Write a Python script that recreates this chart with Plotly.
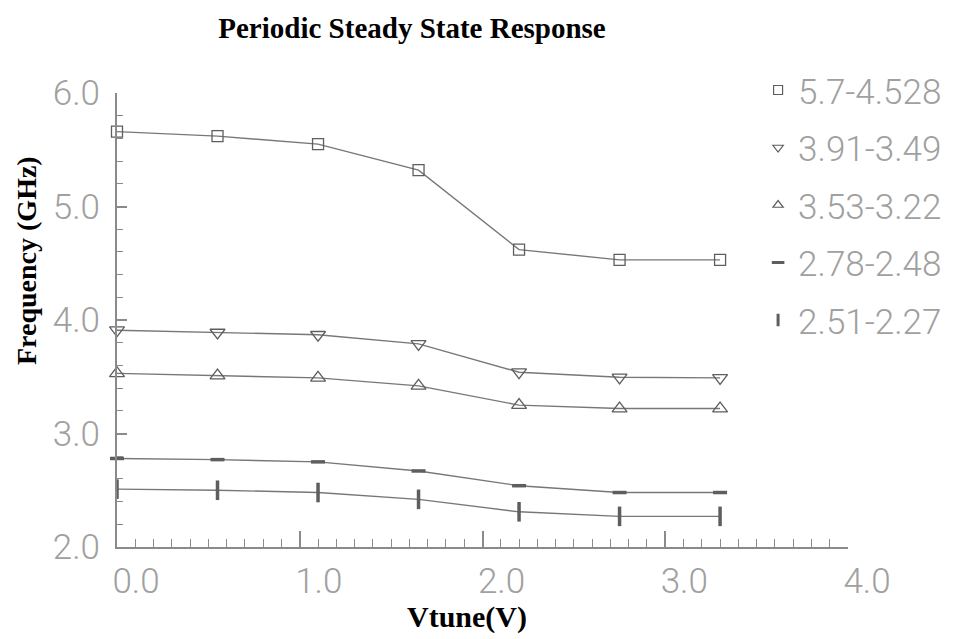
import plotly.graph_objects as go

vtune = [0.0, 0.55, 1.1, 1.65, 2.2, 2.75, 3.3]
s1 = [5.66, 5.62, 5.55, 5.32, 4.62, 4.53, 4.53]
s2 = [3.91, 3.89, 3.87, 3.79, 3.54, 3.495, 3.49]
s3 = [3.53, 3.51, 3.49, 3.42, 3.25, 3.22, 3.22]
s4 = [2.78, 2.77, 2.75, 2.67, 2.54, 2.48, 2.48]
s5 = [2.51, 2.50, 2.48, 2.42, 2.31, 2.27, 2.27]
names = ["5.7-4.528", "3.91-3.49", "3.53-3.22", "2.78-2.48", "2.51-2.27"]
series = [s1, s2, s3, s4, s5]
symbols = ["square-open", "triangle-down-open", "triangle-up-open", "line-ew-open", "line-ns-open"]
sizes = [11, 13, 13, 10, 14]
mwidths = [1.3, 1.3, 1.3, 3.5, 3.5]

xticks = [0, 1, 2, 3, 4]
xticklabels = ["0.0", "1.0", "2.0", "3.0", "4.0"]
yticks = [2, 3, 4, 5, 6]
yticklabels = ["2.0", "3.0", "4.0", "5.0", "6.0"]

LINE = "#777777"
MK = "#5e5e5e"
AX = "#8a8a8a"
TXT = "#a0a0a0"
TICKFONT = dict(family="Roboto, Liberation Sans, sans-serif", size=35, color=TXT, weight=300)
SERIF = "Liberation Serif, Times New Roman, serif"

fig = go.Figure()
for i, (name, ys) in enumerate(zip(names, series)):
    fig.add_trace(go.Scatter(
        x=vtune, y=ys, mode="lines+markers", name=name, showlegend=False,
        line=dict(color=LINE, width=1.4),
        marker=dict(symbol=symbols[i], size=sizes[i], color=MK,
                    line=dict(color=MK, width=mwidths[i])),
        cliponaxis=False,
    ))
for i, name in enumerate(names):
    fig.add_trace(go.Scatter(
        x=[None], y=[None], mode="markers", name=name, legendgroup=f"g{i}",
        marker=dict(symbol=symbols[i], size=9, color=MK,
                    line=dict(color=MK, width=1.2 if mwidths[i] < 2 else 3)),
    ))

fig.update_layout(
    width=964, height=639,
    paper_bgcolor="white", plot_bgcolor="white",
    margin=dict(l=109, r=124, t=85, b=100),
    title=dict(text="<b>Periodic Steady State Response</b>", x=404/964, xref="container",
               xanchor="center", y=1-20/639, yanchor="middle",
               font=dict(family=SERIF, size=29, color="black")),
    legend=dict(x=0.877, y=1.071, xanchor="left", yanchor="top",
                font=dict(family="Roboto, Liberation Sans, sans-serif", size=35, color=TXT, weight=300),
                traceorder="grouped", tracegroupgap=9, bgcolor="rgba(0,0,0,0)"),
    showlegend=True,
)
fig.update_xaxes(
    range=[0, 4], tickmode="array", tickvals=xticks, ticktext=xticklabels,
    showgrid=False, zeroline=False, showline=True, linecolor=AX, linewidth=2,
    ticks="inside", ticklen=16, tickwidth=1.5, tickcolor=AX,
    minor=dict(dtick=0.1, ticks="inside", ticklen=8, tickwidth=1.2, tickcolor=AX, showgrid=False),
    tickfont=TICKFONT, ticklabelshift=19, ticklabelstandoff=2,
)
fig.update_yaxes(
    range=[2, 6], tickmode="array", tickvals=yticks, ticktext=yticklabels,
    showgrid=False, zeroline=False, showline=True, linecolor=AX, linewidth=2,
    ticks="inside", ticklen=10, tickwidth=1.5, tickcolor=AX,
    minor=dict(dtick=0.2, ticks="inside", ticklen=6, tickwidth=1.2, tickcolor=AX, showgrid=False),
    tickfont=TICKFONT, ticklabelstandoff=8,
)
fig.add_annotation(text="<b>Frequency (GHz)</b>", xref="paper", yref="paper",
                   x=(26-117)/731, y=(547-261)/454, textangle=-90, showarrow=False,
                   xanchor="center", yanchor="middle",
                   font=dict(family=SERIF, size=28, color="black"))
fig.add_annotation(text="<b>Vtune(V)</b>", xref="paper", yref="paper",
                   x=(467-117)/731, y=-(617-547)/454, showarrow=False,
                   xanchor="center", yanchor="middle",
                   font=dict(family=SERIF, size=30, color="black"))

fig.write_html("out.html")
